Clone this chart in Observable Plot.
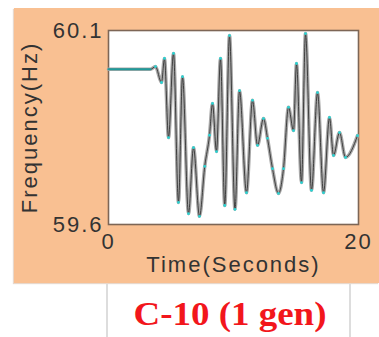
<!DOCTYPE html>
<html>
<head>
<meta charset="utf-8">
<script src="https://cdn.jsdelivr.net/npm/d3@7"></script>
<script src="https://cdn.jsdelivr.net/npm/@observablehq/plot@0.6"></script>
<style>
  html, body { margin: 0; padding: 0; background: #ffffff; width: 379px; height: 337px; overflow: hidden; }
  #panel { position: absolute; left: 14px; top: 8px; width: 365px; height: 275px; background: #f9c092; box-shadow: -1px 1px 1px #e8d8cc; }
  .vline { position: absolute; top: 284px; width: 1.5px; height: 53px; background: #dddddd; }
  #title { position: absolute; left: 0; width: 460px; top: 296px; text-align: center; font-family: "Liberation Serif", "DejaVu Serif", serif; font-weight: bold; font-size: 33px; color: #f2161c; transform: scaleX(1.12); transform-origin: 230px 0; white-space: nowrap; }
</style>
</head>
<body>
<div id="panel"></div>
<div class="vline" style="left:106px"></div>
<div class="vline" style="left:349px"></div>
<div id="title">C-10 (1 gen)</div>
<script>
// Time (s) and frequency (Hz)
const time = [0, 3.36, 3.76, 4.24, 4.48, 4.8, 5.2, 5.6, 5.92, 6.4, 6.8, 7.28, 7.7, 8.08, 8.32, 8.64, 8.96, 9.3, 9.68, 10.12, 10.48, 11.04, 11.52, 11.92, 12.4, 12.72, 13.12, 13.6, 14.0, 14.4, 14.8, 15.04, 15.44, 15.76, 16.24, 16.72, 17.2, 17.68, 18.0, 18.48, 18.96, 19.92];
const freq = [60.0, 60.0, 60.007, 59.966, 60.028, 59.824, 60.041, 59.657, 59.981, 59.628, 59.798, 59.621, 59.750, 59.830, 59.912, 59.788, 60.028, 59.649, 60.087, 59.639, 59.945, 59.682, 59.920, 59.804, 59.873, 59.822, 59.744, 59.680, 59.744, 59.902, 59.842, 60.015, 59.708, 60.092, 59.688, 59.940, 59.682, 59.876, 59.778, 59.837, 59.773, 59.829];
const xTicks = [0, 20];
const yTicks = [59.6, 60.1];
const xLabel = "Time(Seconds)";
const yLabel = "Frequency(Hz)";

const data = time.map((t, i) => ({t, f: freq[i]}));
const flat = data.filter(d => d.t <= 3.4);

const plot = Plot.plot({
  width: 365,
  height: 275,
  marginLeft: 94,
  marginRight: 21,
  marginTop: 22,
  marginBottom: 59,
  style: { background: "transparent", fontFamily: "Liberation Sans, Arial, sans-serif", fontSize: "22px", color: "#333" },
  x: { domain: [0, 20], ticks: xTicks, tickSize: 0, tickPadding: 9, label: null, tickFormat: d => String(d) },
  y: { domain: [59.6, 60.1], ticks: yTicks, tickSize: 0, tickPadding: 5, label: null, tickFormat: d => d.toFixed(1) },
  marks: [
    Plot.frame({ fill: "white", stroke: "#7d6656", strokeWidth: 1.6 }),
    Plot.line(data, { x: "t", y: "f", stroke: "#a8a8a8", strokeWidth: 3.5, curve: "monotone-x" }),
    Plot.line(data, { x: "t", y: "f", stroke: "#333333", strokeWidth: 0.9, curve: "monotone-x" }),
    Plot.line(flat, { x: "t", y: "f", stroke: "#1f9a9a", strokeWidth: 2 }),
    Plot.dot(data.filter(d => d.t > 3.4), { x: "t", y: "f", r: 1.4, fill: "#2ad4d4", stroke: "none" }),
    Plot.text([xLabel], { frameAnchor: "bottom", dy: 47, text: d => d, fontSize: 22, fill: "#333" }),
    Plot.text([yLabel], { frameAnchor: "left", textAnchor: "middle", dx: -79, rotate: -90, text: d => d, fontSize: 22, fill: "#333" })
  ]
});
plot.style.position = "absolute";
plot.style.left = "14px";
plot.style.top = "8px";
d3.select(plot).selectAll("text").style("letter-spacing", "2px");
document.body.appendChild(plot);
</script>
</body>
</html>
